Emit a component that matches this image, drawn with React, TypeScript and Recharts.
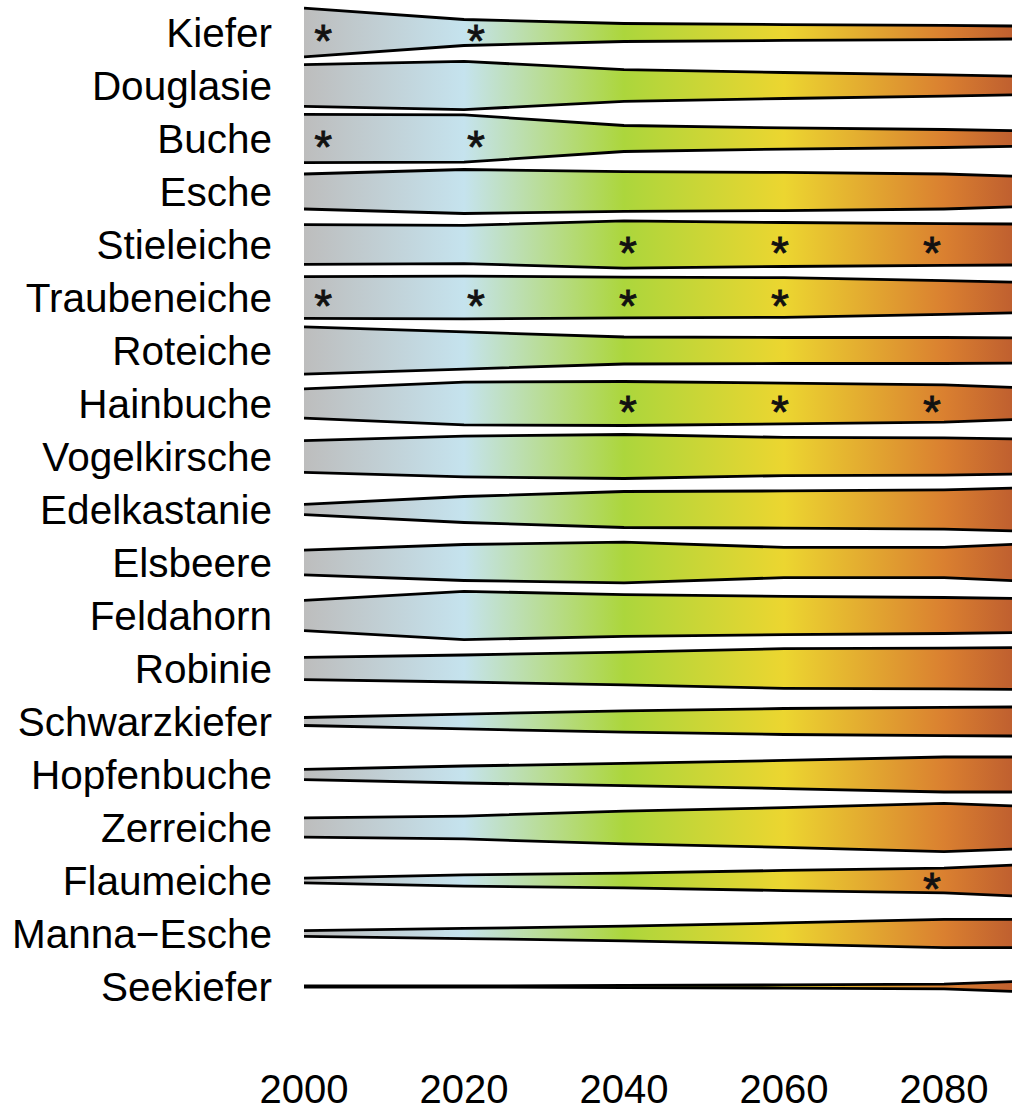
import React from "react";
import { ComposedChart, Area, Scatter, XAxis, YAxis } from "recharts";

// years of the projection periods (last point runs past the plot edge)
const years = [2000, 2020, 2040, 2060, 2080, 2090];
const yearTicks = [2000, 2020, 2040, 2060, 2080];

const species = [
  "Kiefer",
  "Douglasie",
  "Buche",
  "Esche",
  "Stieleiche",
  "Traubeneiche",
  "Roteiche",
  "Hainbuche",
  "Vogelkirsche",
  "Edelkastanie",
  "Elsbeere",
  "Feldahorn",
  "Robinie",
  "Schwarzkiefer",
  "Hopfenbuche",
  "Zerreiche",
  "Flaumeiche",
  "Manna\u2212Esche",
  "Seekiefer",
];

// ribbon width per period, in % of the row height
const kiefer = [92, 49, 34, 30, 27, 24];
const douglasie = [79, 91, 60, 49, 40, 35];
const buche = [91, 89, 49, 40, 34, 29];
const esche = [66, 83, 75, 72, 66, 57];
const stieleiche = [75, 72, 89, 83, 79, 77];
const traubeneiche = [79, 81, 77, 75, 64, 57];
const roteiche = [89, 70, 51, 49, 49, 47];
const hainbuche = [55, 81, 83, 77, 70, 59];
const vogelkirsche = [60, 77, 83, 72, 70, 66];
const edelkastanie = [19, 49, 68, 70, 74, 82];
const elsbeere = [47, 68, 77, 57, 57, 70];
const feldahorn = [57, 91, 79, 72, 68, 64];
const robinie = [42, 51, 62, 75, 77, 79];
const schwarzkiefer = [15, 28, 40, 49, 53, 55];
const hopfenbuche = [19, 32, 42, 53, 66, 66];
const zerreiche = [36, 43, 62, 75, 91, 80];
const flaumeiche = [9, 21, 28, 38, 47, 60];
const mannaEsche = [11, 19, 28, 40, 53, 53];
const seekiefer = [2, 2, 4, 6, 9, 20];

const widths = [
  kiefer, douglasie, buche, esche, stieleiche, traubeneiche, roteiche,
  hainbuche, vogelkirsche, edelkastanie, elsbeere, feldahorn, robinie,
  schwarzkiefer, hopfenbuche, zerreiche, flaumeiche, mannaEsche, seekiefer,
];

// columns where the significance asterisks are printed
const starYears = [2002.4, 2021.5, 2040.5, 2059.5, 2078.5];
const stars: [string, number][] = [
  ["Kiefer", 0], ["Kiefer", 1],
  ["Buche", 0], ["Buche", 1],
  ["Stieleiche", 2], ["Stieleiche", 3], ["Stieleiche", 4],
  ["Traubeneiche", 0], ["Traubeneiche", 1], ["Traubeneiche", 2], ["Traubeneiche", 3],
  ["Hainbuche", 2], ["Hainbuche", 3], ["Hainbuche", 4],
  ["Flaumeiche", 4],
];

const gradientStops: [number, string][] = [
  [2000, "#bdbdbd"],
  [2020, "#c5e3ee"],
  [2040, "#acd63c"],
  [2060, "#ecd630"],
  [2080, "#da8030"],
  [2090, "#bb5a2f"],
];

const data = years.map((year, j) => {
  const row: Record<string, number> = { year };
  species.forEach((s, i) => (row[s] = widths[i][j]));
  return row;
});

const starData = stars.map(([name, k]) => ({
  year: starYears[k],
  row: species.indexOf(name),
}));

const FONT = '"Liberation Sans", Arial, Helvetica, sans-serif';

const Star = (props: any) => (
  <text
    x={props.cx}
    y={props.cy + 24}
    textAnchor="middle"
    fontSize={46}
    fontFamily={FONT}
    fill="#111"
    stroke="#111"
    strokeWidth={0.8}
  >
    *
  </text>
);

export default function App() {
  const first = years[0];
  const span = years[years.length - 1] - first;
  return (
    <div style={{ position: "absolute", left: 0, top: 0 }}>
      <ComposedChart
        width={1012}
        height={1112}
        data={data}
        margin={{ top: 6, right: 0, bottom: 1, left: 0 }}
      >
        <defs>
          <linearGradient id="timeFill" x1="0" y1="0" x2="1" y2="0">
            {gradientStops.map(([y, c]) => (
              <stop key={y} offset={(y - first) / span} stopColor={c} />
            ))}
          </linearGradient>
        </defs>
        <XAxis
          type="number"
          dataKey="year"
          domain={[2000, 2088.5]}
          allowDataOverflow
          ticks={yearTicks}
          axisLine={false}
          tickLine={false}
          tickSize={0}
          tickMargin={62}
          height={98}
          tick={{ fill: "#000", fontSize: 40, fontFamily: FONT }}
        />
        <YAxis
          type="number"
          domain={[-0.5, 18.5]}
          reversed
          ticks={species.map((_, i) => i)}
          interval={0}
          tickFormatter={(i: number) => species[i]}
          axisLine={false}
          tickLine={false}
          tickSize={0}
          tickMargin={32}
          width={304}
          tick={{ fill: "#000", fontSize: 40.5, fontFamily: FONT }}
        />
        {species.map((s, i) => (
          <Area
            key={s}
            type="linear"
            dataKey={(d: any) => [i - d[s] / 200, i + d[s] / 200]}
            fill="url(#timeFill)"
            fillOpacity={1}
            stroke="#000"
            strokeWidth={2.8}
            dot={false}
            activeDot={false}
            isAnimationActive={false}
          />
        ))}
        <Scatter
          data={starData}
          dataKey="row"
          shape={Star}
          isAnimationActive={false}
        />
      </ComposedChart>
    </div>
  );
}
